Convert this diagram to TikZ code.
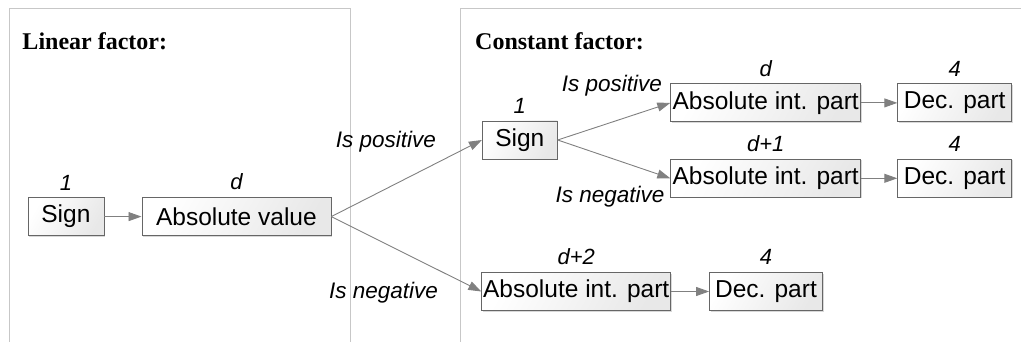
\documentclass[tikz,border=0pt]{standalone}
\usepackage{fontspec}
\setmainfont{Liberation Serif}
\newfontfamily\boxfont{Liberation Sans}
\usetikzlibrary{arrows.meta,shadows}
\begin{document}
\begin{tikzpicture}[x=1pt,y=-1pt,
  panel/.style={draw=black!22, line width=1pt},
  title/.style={anchor=base west, inner sep=0pt, font=\fontsize{24}{28}\selectfont\bfseries},
  box/.style={draw=black!60, line width=0.8pt, left color=white, right color=black!9,
    shading angle=60, minimum height=38pt, inner sep=0pt,
    font=\boxfont\fontsize{24.5}{28}\selectfont,
    drop shadow={shadow xshift=1pt, shadow yshift=-1pt, fill=black!30, opacity=0.5}},
  num/.style={inner sep=0pt, font=\boxfont\itshape\fontsize{22}{25}\selectfont},
  cond/.style={inner sep=0pt, font=\boxfont\itshape\fontsize{22.5}{25}\selectfont},
  conn/.style={draw=black!50, line width=0.9pt, -{Triangle[length=13pt,width=9pt]}},
  every label/.style={num},
  label distance=7pt]
  \useasboundingbox (0,0) rectangle (1021,342);

  % panels, open at the bottom (and at the right for the second one)
  \draw[panel] (9.3,343) -- (9.3,8.3) -- (350,8.3) -- (350,343);
  \draw[panel] (460.7,343) -- (460.7,8.3) -- (1022,8.3);

  \node[title] (tlin) at (22.3,49.3) {Linear factor:};
  \node[title] (tcon) at (475,50) {Constant factor:};

  % linear factor
  \node[box, minimum width=76pt, label=above:1] (lsign) at (65.9,216.6) {Sign};
  \node[box, minimum width=189pt, label=above:d] (labs) at (236.4,216.6) {Absolute value};

  % constant factor
  \node[box, minimum width=75pt, label=above:1] (rsign) at (519.8,140) {Sign};
  \node[box, minimum width=190pt, label=above:d] (pabs) at (765.7,102.9) {Absolute int. part};
  \node[box, minimum width=114pt, label=above:4] (pdec) at (954.7,102.9) {Dec. part};
  \node[box, minimum width=190pt, label=above:d+1] (nabs) at (765.7,178.3) {Absolute int. part};
  \node[box, minimum width=114pt, label=above:4] (ndec) at (954.7,178.3) {Dec. part};
  \node[box, minimum width=189pt, label=above:d+2] (babs) at (576.2,291.5) {Absolute int. part};
  \node[box, minimum width=113pt, label=above:4] (bdec) at (766,291.5) {Dec. part};

  % branch conditions
  \node[cond] (lpos) at (386,142) {Is positive};
  \node[cond] (lneg) at (383.5,293) {Is negative};
  \node[cond] (rpos) at (612,86) {Is positive};
  \node[cond] (rneg) at (610,197) {Is negative};

  % connectors
  \draw[conn] (lsign) -- (labs);
  \draw[conn] (labs.east) -- (rsign.west);
  \draw[conn] (labs.east) -- (babs.west);
  \draw[conn] (rsign.east) -- (pabs.west);
  \draw[conn] (rsign.east) -- (nabs.west);
  \draw[conn] (pabs) -- (pdec);
  \draw[conn] (nabs) -- (ndec);
  \draw[conn] (babs) -- (bdec);
\end{tikzpicture}
\end{document}
